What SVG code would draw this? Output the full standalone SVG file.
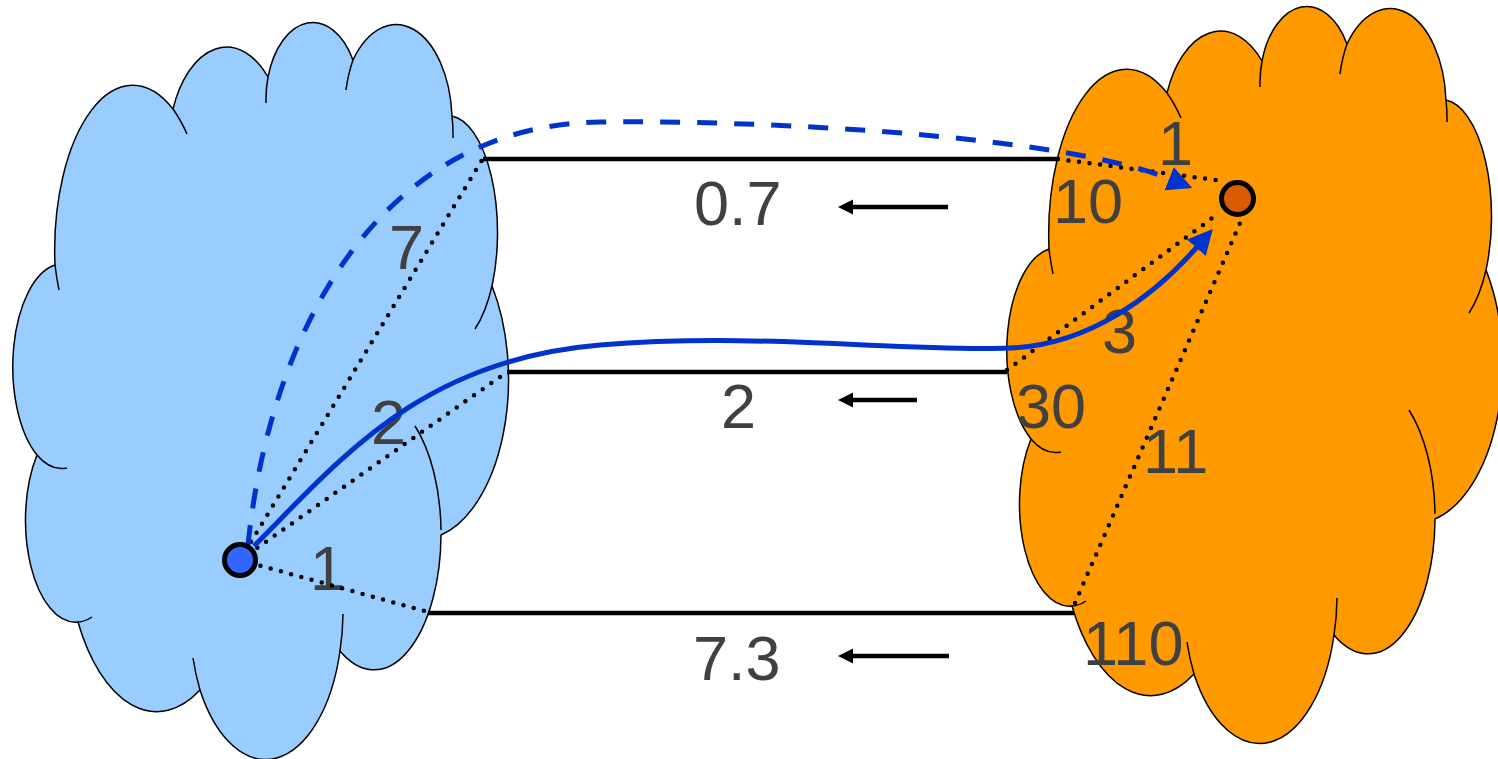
<svg xmlns="http://www.w3.org/2000/svg" width="1498" height="759" viewBox="0 0 1498 759">
<style>
.outline{stroke:#000;stroke-width:1.5;stroke-linejoin:round}
.tail{fill:none;stroke:#000;stroke-width:1.5}
.lbl{font-family:"Liberation Sans",Arial,sans-serif;font-size:63px;fill:#404040}
.bar{stroke:#000;stroke-width:4.5;fill:none}
.dot{stroke:#000;stroke-width:4.5;fill:none;stroke-linecap:round;stroke-dasharray:0 10.6}
.blue{stroke:#0033CC;stroke-width:5;fill:none}
.dash{stroke-dasharray:20 17}
.small{stroke:#000;stroke-width:4.5;fill:none}
.node{stroke:#000;stroke-width:5}
</style>
<defs>
<marker id="ab" markerUnits="userSpaceOnUse" markerWidth="17" markerHeight="17" refX="1" refY="8" orient="auto">
<path d="M0,0.5 L15,8 L0,15.5 Z" fill="#000"/>
</marker>
<marker id="abl" markerUnits="userSpaceOnUse" markerWidth="28" markerHeight="28" refX="1" refY="14" orient="auto">
<path d="M0,1.5 L25,14 L0,26.5 Z" fill="#0033CC"/>
</marker>
<g id="cloud">
<path class="outline" d="M55,265 A78,165 0 0,1 173,109 A58,100 0 0,1 268,77 A47,78 0 0,1 353,60 A56,98 0 0,1 452,116 A50,117 0 0,1 492,286 A88,160 0 0,1 441,535 A67,136 0 0,1 340,651 A77,146 0 0,1 200,690 A90,175 0 0,1 78,622 A50,102 0 0,1 37,455 A50,103 0 0,1 55,265 Z"/>
<path class="tail" d="M55,265 A78,165 0 0,0 59,290 M173,109 A78,165 0 0,1 187,134 M268,77 A47,78 0 0,0 266,103 M353,60 A56,98 0 0,0 346,90 M452,116 A56,98 0 0,1 453,138 M492,286 A50,117 0 0,1 475,329 M415,426 A67,136 0 0,1 441,530 M340,651 A77,146 0 0,0 343,614 M200,690 A77,146 0 0,1 193,658 M78,622 A50,102 0 0,0 92,617 M37,455 A50,103 0 0,0 67,468"/>
</g>
</defs>

<g id="cloud-left"><use href="#cloud" fill="#99CCFF"/></g>
<g id="cloud-right"><use href="#cloud" fill="#FF9900" transform="translate(994,-16)"/></g>

<g id="labels">
<text class="lbl" x="694" y="225">0.7</text>
<text class="lbl" x="721" y="428">2</text>
<text class="lbl" x="693" y="680">7.3</text>
<text class="lbl" x="389" y="269">7</text>
<text class="lbl" x="371" y="444">2</text>
<text class="lbl" x="310" y="590">1</text>
<text class="lbl" x="1158" y="165">1</text>
<text class="lbl" x="1053" y="223">10</text>
<text class="lbl" x="1102" y="353">3</text>
<text class="lbl" x="1016" y="428">30</text>
<text class="lbl" x="1143" y="473">11</text>
<text class="lbl" x="1083" y="665">110</text>
</g>

<g id="connectors">
<line class="bar" x1="483" y1="159" x2="1058" y2="159"/>
<line class="bar" x1="507" y1="372" x2="1007" y2="372"/>
<line class="bar" x1="428" y1="613" x2="1074" y2="613"/>
<path class="small" d="M948,207 L852,207" marker-end="url(#ab)"/>
<path class="small" d="M917,400 L852,400" marker-end="url(#ab)"/>
<path class="small" d="M949,656 L852,656" marker-end="url(#ab)"/>
<path class="dot" d="M240,560 L482,160"/>
<path class="dot" d="M240,560 L507,372"/>
<path class="dot" d="M240,560 L428,612"/>
<path class="dot" d="M1058,159 L1216,180"/>
<path class="dot" d="M1007,370 L1219,213"/>
<path class="dot" d="M1075,603 L1241,221"/>
<path class="blue dash" d="M248,545 C270,330 380,125 600,122 C760,120 1060,135 1170,179" marker-end="url(#abl)"/>
<path class="blue" d="M254,546 C340,460 420,360 600,345 C760,332 900,352 1010,348 C1090,345 1155,295 1197,247" marker-end="url(#abl)"/>
</g>

<g id="node-a"><circle class="node" cx="240" cy="560" r="15.5" fill="#3366FF"/></g>
<g id="node-b"><circle class="node" cx="1237.5" cy="198.5" r="16" fill="#DA5C00"/></g>
</svg>
